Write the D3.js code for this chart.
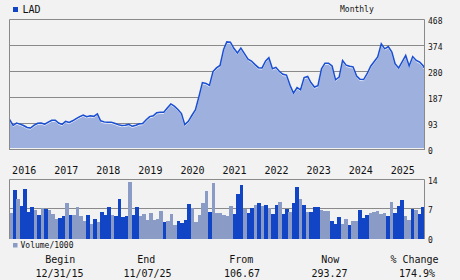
<!DOCTYPE html>
<html>
<head>
<meta charset="utf-8">
<script src="https://cdn.jsdelivr.net/npm/d3@7"></script>
<style>
  body { margin: 0; background: #f2f2f2; }
  svg { display: block; font-family: "DejaVu Sans Mono", monospace; }
</style>
</head>
<body>
<div id="chart"></div>
<script>
// monthly closes, Jan 2016 .. Nov 2025 (first value is the 12/31/15 close)
var priceValues = [
  106.67, 85, 94, 90, 85, 78, 76, 86, 93, 94, 90, 97,
  104, 104, 94, 89, 100, 96, 102, 110, 117, 123, 117, 120,
  118, 127, 102, 98, 97, 97, 93, 88, 85, 86, 89, 82,
  86, 91, 92, 106, 117, 120, 131, 133, 133, 148, 163, 155,
  143, 128, 88, 100, 121, 141, 188, 240, 237, 230, 280, 293,
  302, 360, 387, 386, 364, 347, 365, 345, 325, 318, 305, 294,
  293, 318, 330, 290, 295, 280, 270, 267, 230, 202, 222, 214,
  258, 262, 240, 224, 229, 290, 310, 310, 300, 250, 260, 320,
  303, 299, 297, 264, 252, 251, 272, 299, 316, 333, 380, 362,
  370, 350, 308, 293, 315, 338, 300, 334, 320, 314, 300
]
var lastDate = "2025-11-07"
var lastPrice = 293.27

// monthly volume / 1000, and whether the bar is drawn dark (1) or light (0)
var volumeValues = [
  6.1, 11.5, 9.4, 7.7, 11.8, 6.3, 7.5, 6.8, 5.6, 7.2, 7.0, 6.8,
  5.8, 4.7, 4.9, 5.4, 8.4, 5.6, 5.6, 7.5, 5.4, 4.2, 5.6, 3.5,
  4.6, 3.9, 6.3, 5.6, 7.5, 5.6, 5.4, 9.4, 5.1, 5.4, 13.4, 5.6,
  7.5, 5.4, 5.8, 4.4, 6.1, 4.4, 4.6, 6.5, 3.9, 4.2, 5.8, 3.2,
  4.2, 3.7, 4.4, 8.2, 7.2, 3.9, 5.6, 8.4, 11.3, 6.3, 13.1, 6.1,
  6.1, 5.6, 5.4, 7.7, 5.8, 10.5, 12.7, 7.0, 6.1, 7.2, 7.9, 8.4,
  7.7, 7.9, 7.2, 5.8, 7.9, 8.7, 5.8, 7.0, 6.3, 8.4, 12.2, 9.4,
  7.9, 6.3, 6.3, 7.5, 7.5, 6.7, 6.5, 6.5, 4.2, 3.5, 5.1, 3.5,
  4.7, 3.2, 4.2, 4.2, 6.8, 4.9, 5.6, 6.0, 6.2, 6.6, 5.8, 6.1,
  5.4, 8.7, 6.1, 7.7, 9.2, 5.4, 4.4, 7.1, 6.8, 5.8, 7.5
]
var volumeDark = [
  0,1,0,1,1,1,1,0,1,0,1,0,
  0,0,1,1,0,1,0,0,0,0,1,0,
  1,0,1,1,1,0,1,1,1,1,0,1,
  1,0,0,0,0,0,0,0,1,0,0,0,
  1,1,1,1,0,0,0,0,0,1,0,0,
  0,0,0,0,1,1,1,0,1,1,0,1,
  0,1,0,1,1,0,1,1,0,1,1,0,
  1,0,1,1,1,0,0,0,1,1,1,0,
  0,1,0,0,1,1,1,0,0,0,0,0,
  1,0,1,1,1,0,0,1,0,1,1
]

var priceTicks = [0, 93.6, 187.2, 280.8, 374.4, 468]
var volumeTicks = [0, 7, 14]
var yearLabels = ["2016","2017","2018","2019","2020","2021","2022","2023","2024","2025"]
var summaryHeads = ["Begin", "End", "From", "Now", "% Change"]
var summaryValues = ["12/31/15", "11/07/25", "106.67", "293.27", "174.9%"]

var W = 460, H = 280
var left = 9.5, right = 424.5
var colDark = "#1245c6", colLight = "#8a9cc6", colFill = "#9db0de", colLine = "#1a4fd2", colGrid = "#8a8a8a"

var svg = d3.select("#chart").append("svg").attr("width", W).attr("height", H)
svg.append("rect").attr("width", W).attr("height", H).attr("fill", "#f2f2f2")

var parse = d3.timeParse("%Y-%m-%d")
var priceData = priceValues.map(function(v, i) {
  var d = i == 0 ? parse("2015-12-31") : new Date(2016, i, 1)
  return {date: d, value: v}
})
priceData.push({date: parse(lastDate), value: lastPrice})

var x = d3.scaleTime().domain([parse("2015-12-31"), parse(lastDate)]).range([left, right - 0.5])
var y = d3.scaleLinear().domain([0, 468]).range([149, 19.5])

// grid
svg.append("g").selectAll("line").data(priceTicks.slice(1, 5)).enter().append("line")
  .attr("x1", left).attr("x2", right)
  .attr("y1", d => Math.round(y(d)) + 0.5).attr("y2", d => Math.round(y(d)) + 0.5)
  .attr("stroke", colGrid).attr("stroke-width", 1)

var area = d3.area().x(d => x(d.date)).y0(148).y1(d => y(d.value)).curve(d3.curveLinear)
svg.append("path").datum(priceData).attr("d", area).attr("fill", colFill)

var line = d3.line().x(d => x(d.date)).y(d => y(d.value))
svg.append("path").datum(priceData).attr("d", line)
  .attr("fill", "none").attr("stroke", "#ffffff").attr("stroke-width", 1)
  .attr("transform", "translate(0,1.2)").attr("opacity", 0.8)
svg.append("path").datum(priceData).attr("d", line)
  .attr("fill", "none").attr("stroke", colLine).attr("stroke-width", 1.5)

// frame
svg.append("line").attr("x1", left).attr("x2", left).attr("y1", 19.5).attr("y2", 150).attr("stroke", colGrid)
svg.append("line").attr("x1", right).attr("x2", right).attr("y1", 19.5).attr("y2", 150).attr("stroke", colGrid)
svg.append("line").attr("x1", left).attr("x2", right).attr("y1", 19.5).attr("y2", 19.5).attr("stroke", colGrid)
svg.append("line").attr("x1", left).attr("x2", right).attr("y1", 149.5).attr("y2", 149.5).attr("stroke", colGrid)

svg.append("g").selectAll("text").data(priceTicks).enter().append("text")
  .attr("x", 428).attr("y", d => y(d) + 4.5)
  .attr("font-size", 8).attr("fill", "#111")
  .text(d => Math.floor(d))

// legend + title
svg.append("rect").attr("x", 13).attr("y", 7).attr("width", 5).attr("height", 5).attr("fill", colDark)
svg.append("text").attr("x", 22.5).attr("y", 12.5).attr("font-size", 10).attr("fill", "#111").text("LAD")
svg.append("text").attr("x", 340).attr("y", 11.5).attr("font-size", 8).attr("fill", "#111").text("Monthly")

// years
svg.append("g").selectAll("text").data(yearLabels).enter().append("text")
  .attr("x", d => x(new Date(+d, 0, 1)) + 2.5).attr("y", 174)
  .attr("font-size", 10).attr("fill", "#111")
  .text(d => d)

// volume panel
var months = volumeValues.map((v, i) => i)
var xb = d3.scaleBand().domain(months).range([left, right]).padding(0)
var yv = d3.scaleLinear().domain([0, 14]).range([238.7, 179.5])

svg.append("line").attr("x1", left).attr("x2", right).attr("y1", 208.5).attr("y2", 208.5).attr("stroke", colGrid)
svg.append("g").selectAll("rect").data(volumeValues).enter().append("rect")
  .attr("x", (d, i) => xb(i)).attr("width", xb.bandwidth() + 0.05)
  .attr("y", d => yv(d)).attr("height", d => yv(0) - yv(d))
  .attr("fill", (d, i) => volumeDark[i] ? colDark : colLight)
  .attr("shape-rendering", "crispEdges")

svg.append("line").attr("x1", left).attr("x2", left).attr("y1", 179.5).attr("y2", 239).attr("stroke", colGrid)
svg.append("line").attr("x1", right).attr("x2", right).attr("y1", 179.5).attr("y2", 239).attr("stroke", colGrid)
svg.append("line").attr("x1", left).attr("x2", right).attr("y1", 179.5).attr("y2", 179.5).attr("stroke", colGrid)

svg.append("g").selectAll("text").data(volumeTicks).enter().append("text")
  .attr("x", 428).attr("y", d => yv(d) + 4.3)
  .attr("font-size", 8).attr("fill", "#111")
  .text(d => d)

svg.append("rect").attr("x", 13).attr("y", 243).attr("width", 4.5).attr("height", 4.5).attr("fill", colLight)
svg.append("text").attr("x", 20.5).attr("y", 247.5).attr("font-size", 8).attr("fill", "#111").text("Volume/1000")

// summary
var headX = [60.3, 146.3, 241.3, 330.3, 414.5]
var valX = [59.5, 147.5, 242, 329.5, 417]
svg.append("g").selectAll("text").data(summaryHeads).enter().append("text")
  .attr("x", (d, i) => headX[i]).attr("y", 262.5).attr("text-anchor", "middle")
  .attr("font-size", 10).attr("fill", "#111").text(d => d)
svg.append("g").selectAll("text").data(summaryValues).enter().append("text")
  .attr("x", (d, i) => valX[i]).attr("y", 276.5).attr("text-anchor", "middle")
  .attr("font-size", 10).attr("fill", "#111").text(d => d)
</script>
</body>
</html>
